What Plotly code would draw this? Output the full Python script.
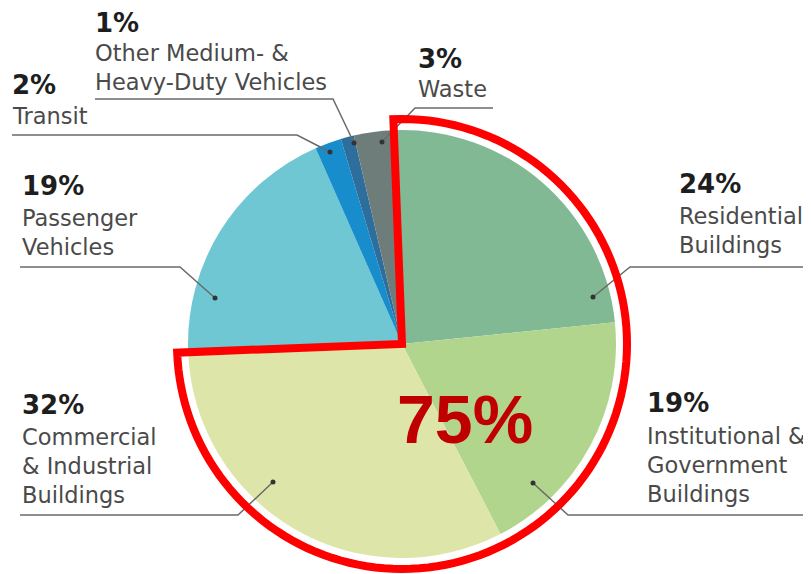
import math
import plotly.graph_objects as go

# ---- data ----
categories = ["Residential Buildings", "Institutional & Government Buildings",
              "Commercial & Industrial Buildings", "Passenger Vehicles", "Transit",
              "Other Medium- & Heavy-Duty Vehicles", "Waste"]
shares = [24, 19, 32, 19, 2, 1, 3]
pct_labels = ["24%", "19%", "32%", "19%", "2%", "1%", "3%"]
name_lines = [["Residential", "Buildings"],
              ["Institutional &", "Government", "Buildings"],
              ["Commercial", "& Industrial", "Buildings"],
              ["Passenger", "Vehicles"],
              ["Transit"],
              ["Other Medium- &", "Heavy-Duty Vehicles"],
              ["Waste"]]
highlight_count = 3  # first three slices (buildings) outlined in red
highlight_text = "75%"

# ---- styles / layout (screen pixel coordinates; page body has an 8px margin) ----
W, H = 811, 574
OFF = 8
colors = ["#80B994", "#B2D58E", "#DEE5A9", "#6EC7D3", "#178DCB", "#2E6E9D", "#6E7D79"]
CX, CY, R = 402, 344, 214
ROT = -2.2
RED_R = 225

# label layout: (pct x, pct y, first name-line y, leader path points)
label_pos = [
    (677, 184, 216, [(811, 267), (630, 267), (593, 297)]),
    (645, 403, 436, [(811, 515), (568, 515), (533, 483)]),
    (20, 405, 437, [(20, 515), (238, 515), (273, 482)]),
    (20, 186, 218, [(20, 267), (180, 267), (215, 298)]),
    (10, 85, 116, [(12, 135), (297, 135), (330, 152)]),
    (93, 21, 53, [(95, 99), (333, 99), (354, 143)]),
    (416, 59, 89, [(493, 108), (415, 108), (382, 142)]),
]
LINE_GAP = 29

fig = go.Figure()

# pie domain in paper units (figure starts at OFF, OFF on screen)
fx0 = (CX - OFF - R) / W
fx1 = (CX - OFF + R) / W
fy0 = 1 - (CY - OFF + R) / H
fy1 = 1 - (CY - OFF - R) / H
fig.add_trace(go.Pie(
    labels=categories, values=shares, sort=False, direction="clockwise",
    rotation=ROT, marker=dict(colors=colors, line=dict(width=0)),
    textinfo="none", hoverinfo="label+percent", showlegend=False,
    domain=dict(x=[fx0, fx1], y=[fy0, fy1]),
))
# invisible cartesian trace so the pixel-coordinate axes exist
fig.add_trace(go.Scatter(x=[OFF], y=[OFF], mode="markers", marker=dict(opacity=0),
                         hoverinfo="skip", showlegend=False))

shapes = []
# leader lines and dots
for (_, _, _, pts) in label_pos:
    path = "M " + " L ".join(f"{p[0]},{p[1]}" for p in pts)
    shapes.append(dict(type="path", path=path, xref="x", yref="y", layer="above",
                       line=dict(color="#6a6a6a", width=1.5)))
    dx, dy = pts[-1]
    shapes.append(dict(type="circle", xref="x", yref="y", layer="above",
                       x0=dx - 2.5, x1=dx + 2.5, y0=dy - 2.5, y1=dy + 2.5,
                       fillcolor="#333333", line=dict(width=0)))

# red outline of highlighted slices, derived from data shares
total = sum(shares)
a0 = ROT
a1 = ROT + 360 * sum(shares[:highlight_count]) / total
pts = [(CX, CY)]
n = 120
for i in range(n + 1):
    a = math.radians(a0 + (a1 - a0) * i / n)
    pts.append((CX + RED_R * math.sin(a), CY - RED_R * math.cos(a)))
red_path = "M " + " L ".join(f"{x:.2f},{y:.2f}" for x, y in pts) + " Z"
shapes.append(dict(type="path", path=red_path, xref="x", yref="y", layer="above",
                   line=dict(color="#FF0000", width=8)))

annotations = []
for pct, lines, (px, py, ny, _) in zip(pct_labels, name_lines, label_pos):
    if py - OFF < 18:
        # keep the top label's box inside the figure
        annotations.append(dict(x=px + 2, y=OFF, xref="x", yref="y", text="<b>" + pct + "</b>",
                                showarrow=False, xanchor="left", yanchor="top",
                                borderpad=0, borderwidth=0,
                                font=dict(family="DejaVu Sans", size=26, color="#1e1e1e")))
    else:
        annotations.append(dict(x=px, y=py, xref="x", yref="y", text="<b>" + pct + "</b>",
                                showarrow=False, xanchor="left", yanchor="middle",
                                font=dict(family="DejaVu Sans", size=26, color="#1e1e1e")))
    for k, ln in enumerate(lines):
        annotations.append(dict(x=px, y=ny + k * LINE_GAP, xref="x", yref="y", text=ln,
                                showarrow=False, xanchor="left", yanchor="middle",
                                font=dict(family="DejaVu Sans", size=22.5, color="#4a4a4a")))
annotations.append(dict(x=465, y=419, xref="x", yref="y", text="<b>" + highlight_text + "</b>",
                        showarrow=False, xanchor="center", yanchor="middle",
                        font=dict(family="Liberation Sans", size=68, color="#C00000")))

fig.update_layout(
    width=W, height=H, margin=dict(l=0, r=0, t=0, b=0),
    paper_bgcolor="white", plot_bgcolor="rgba(0,0,0,0)",
    xaxis=dict(range=[OFF, OFF + W], visible=False, fixedrange=True),
    yaxis=dict(range=[OFF + H, OFF], visible=False, fixedrange=True),
    annotations=annotations, shapes=shapes, showlegend=False,
)

fig.write_html("out.html")
